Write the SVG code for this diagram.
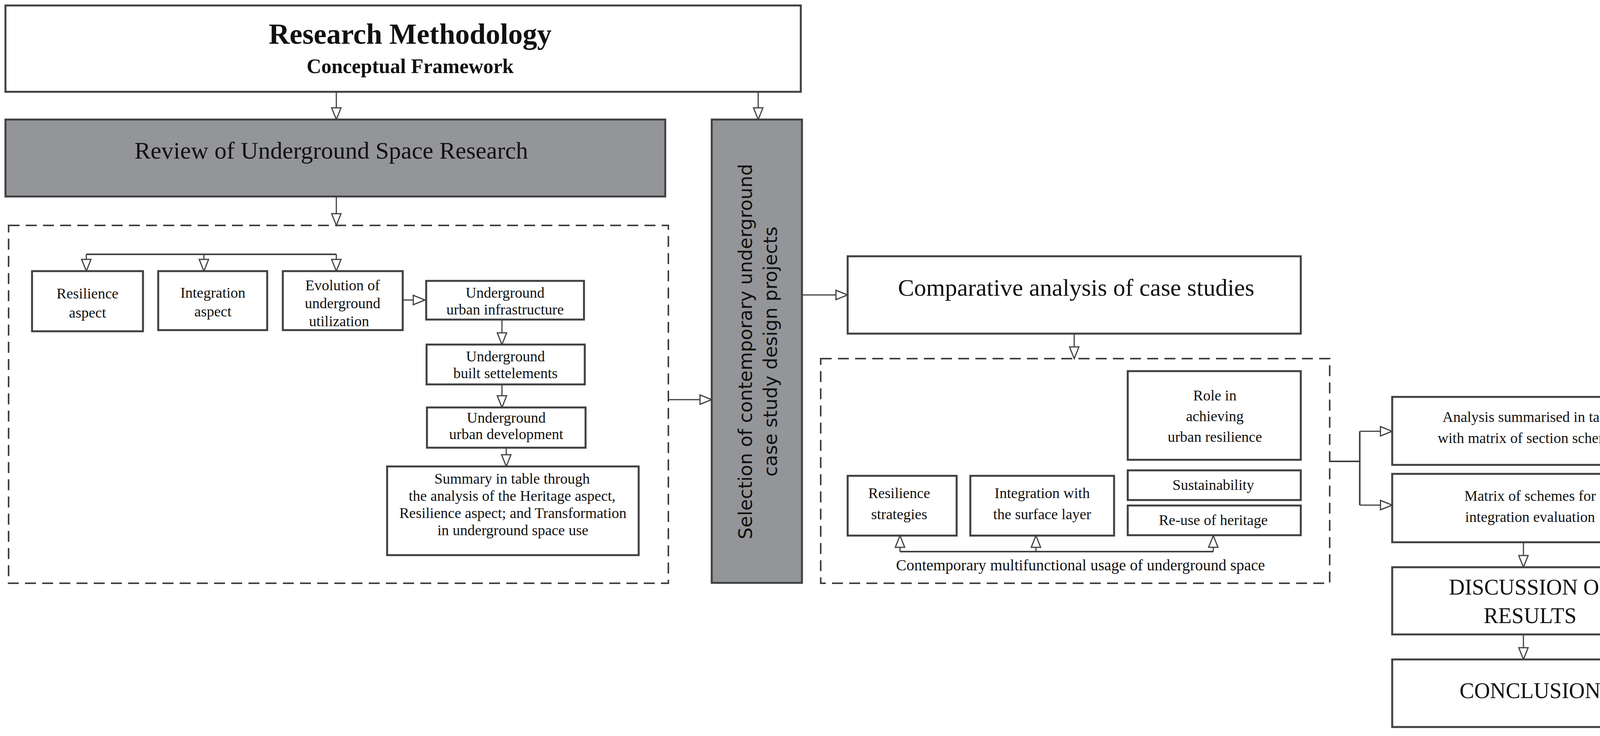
<svg xmlns="http://www.w3.org/2000/svg" width="4287" height="1884" viewBox="0 0 4287 1884">
<style>
.b{fill:#fff;stroke:#404040;stroke-width:5}
.g{fill:#949598;stroke:#404040;stroke-width:5}
.d{fill:none;stroke:#404040;stroke-width:4;stroke-dasharray:28 16}
.c{fill:none;stroke:#404040;stroke-width:4}
.a{fill:none;stroke:#404040;stroke-width:3;marker-end:url(#ah)}
text{font-family:"Liberation Serif",serif;fill:#111;text-anchor:middle}
.s{font-size:38px}
</style>
<defs>
<marker id="ah" markerUnits="userSpaceOnUse" markerWidth="40" markerHeight="40" refX="34" refY="15" orient="auto">
<path d="M4,3 L34,15 L4,27 Z" fill="#fff" stroke="#404040" stroke-width="3"/>
</marker>
</defs>
<g id="connectors">
<line class="a" x1="861" y1="235" x2="861" y2="306"/>
<line class="a" x1="1941" y1="235" x2="1941" y2="306"/>
<line class="a" x1="861" y1="503" x2="861" y2="577"/>
<polyline class="c" points="221,651 861,651"/>
<line class="a" x1="221" y1="651" x2="221" y2="694"/>
<line class="a" x1="522" y1="651" x2="522" y2="694"/>
<line class="a" x1="861" y1="651" x2="861" y2="694"/>
<line class="a" x1="1031" y1="768" x2="1088" y2="768"/>
<line class="a" x1="1285" y1="818" x2="1285" y2="882"/>
<line class="a" x1="1285" y1="984" x2="1285" y2="1043"/>
<line class="a" x1="1296" y1="1146" x2="1296" y2="1194"/>
<line class="a" x1="1711" y1="1023" x2="1822" y2="1023"/>
<line class="a" x1="2053" y1="755" x2="2170" y2="755"/>
<line class="a" x1="2750" y1="854" x2="2750" y2="918"/>
<polyline class="c" points="2304,1412 3106,1412"/>
<line class="a" x1="2304" y1="1412" x2="2304" y2="1371"/>
<line class="a" x1="2652" y1="1412" x2="2652" y2="1371"/>
<line class="a" x1="3106" y1="1412" x2="3106" y2="1371"/>
<polyline class="c" points="3404,1181 3481,1181"/>
<polyline class="c" points="3481,1104 3481,1293"/>
<line class="a" x1="3481" y1="1104" x2="3564" y2="1104"/>
<line class="a" x1="3481" y1="1293" x2="3564" y2="1293"/>
<line class="a" x1="3900" y1="1388" x2="3900" y2="1452"/>
<line class="a" x1="3900" y1="1624" x2="3900" y2="1688"/>
</g>
<g id="title"><rect class="b" x="14" y="14" width="2036" height="221"/>
<text x="1050" y="112" font-size="74" font-weight="bold">Research Methodology</text>
<text x="1050" y="187" font-size="52" font-weight="bold">Conceptual Framework</text></g>
<g id="review"><rect class="g" x="14" y="306" width="1689" height="197"/>
<text x="848" y="406" font-size="62">Review of Underground Space Research</text></g>
<g id="reviewGroup"><rect class="d" x="22" y="577" width="1689" height="916"/></g>
<g id="resAspect"><rect class="b" x="82" y="694" width="284" height="154"/>
<text class="s" x="224" y="764">Resilience</text><text class="s" x="224" y="813">aspect</text></g>
<g id="intAspect"><rect class="b" x="405" y="694" width="279" height="151"/>
<text class="s" x="545" y="762">Integration</text><text class="s" x="545" y="810">aspect</text></g>
<g id="evolution"><rect class="b" x="724" y="694" width="307" height="151"/>
<text class="s" x="877" y="743">Evolution of</text><text class="s" x="877" y="789">underground</text><text class="s" x="868" y="835">utilization</text></g>
<g id="infra"><rect class="b" x="1091" y="719" width="404" height="99"/>
<text class="s" x="1293" y="762">Underground</text><text class="s" x="1293" y="805">urban infrastructure</text></g>
<g id="built"><rect class="b" x="1092" y="882" width="405" height="102"/>
<text class="s" x="1294" y="925">Underground</text><text class="s" x="1294" y="968">built settelements</text></g>
<g id="dev"><rect class="b" x="1093" y="1043" width="406" height="103"/>
<text class="s" x="1296" y="1082">Underground</text><text class="s" x="1296" y="1124">urban development</text></g>
<g id="summary"><rect class="b" x="991" y="1194" width="644" height="227"/>
<text class="s" x="1311" y="1238">Summary in table through</text>
<text class="s" x="1311" y="1282">the  analysis of the Heritage aspect,</text>
<text class="s" x="1313" y="1326">Resilience aspect; and Transformation</text>
<text class="s" x="1313" y="1370">in underground space use</text></g>
<g id="selection"><rect class="g" x="1822" y="306" width="231" height="1186"/>
<g transform="translate(1937,900) rotate(-90)" font-family="DejaVu Sans,sans-serif">
<text x="0" y="-12" font-size="48" style="font-family:'DejaVu Sans',sans-serif">Selection of contemporary underground</text>
<text x="0" y="52" font-size="48" style="font-family:'DejaVu Sans',sans-serif">case study design projects</text></g></g>
<g id="comparative"><rect class="b" x="2170" y="656" width="1160" height="198"/>
<text x="2755" y="757" font-size="62">Comparative analysis of case studies</text></g>
<g id="compGroup"><rect class="d" x="2101" y="918" width="1303" height="575"/>
<text x="2766" y="1460" font-size="40">Contemporary multifunctional usage of underground space</text></g>
<g id="role"><rect class="b" x="2887" y="950" width="443" height="227"/>
<text class="s" x="3110" y="1025">Role in</text><text class="s" x="3110" y="1078">achieving</text><text class="s" x="3110" y="1131">urban resilience</text></g>
<g id="sust"><rect class="b" x="2887" y="1204" width="443" height="76"/>
<text class="s" x="3106" y="1254">Sustainability</text></g>
<g id="reuse"><rect class="b" x="2887" y="1294" width="443" height="76"/>
<text class="s" x="3106" y="1344">Re-use of heritage</text></g>
<g id="resStrat"><rect class="b" x="2170" y="1218" width="279" height="153"/>
<text class="s" x="2302" y="1275">Resilience</text><text class="s" x="2302" y="1329">strategies</text></g>
<g id="intSurf"><rect class="b" x="2484" y="1218" width="368" height="153"/>
<text class="s" x="2668" y="1275">Integration with</text><text class="s" x="2668" y="1329">the surface layer</text></g>
<g id="analysis"><rect class="b" x="3564" y="1016" width="706" height="174"/>
<text class="s" x="3917" y="1080">Analysis summarised in table</text><text class="s" x="3917" y="1134">with matrix of section schemes</text></g>
<g id="matrix"><rect class="b" x="3564" y="1213" width="706" height="175"/>
<text class="s" x="3917" y="1282">Matrix of schemes for</text><text class="s" x="3917" y="1336">integration evaluation</text></g>
<g id="discussion"><rect class="b" x="3564" y="1452" width="706" height="172"/>
<text x="3917" y="1522" font-size="56">DISCUSSION OF</text><text x="3917" y="1595" font-size="56">RESULTS</text></g>
<g id="conclusion"><rect class="b" x="3564" y="1688" width="706" height="173"/>
<text x="3917" y="1787" font-size="56">CONCLUSION</text></g>
</svg>
